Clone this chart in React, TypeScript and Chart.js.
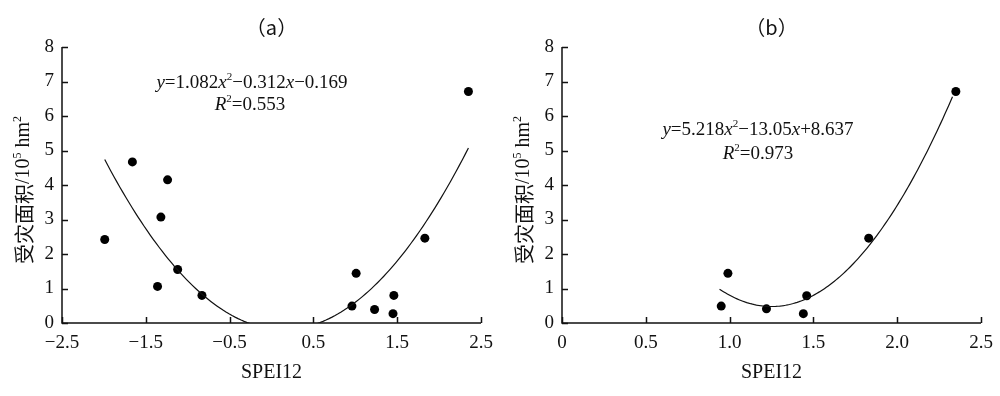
import React, { useEffect, useRef } from "react";
import { Chart, registerables } from "chart.js";

Chart.register(...registerables);

const SERIF = "'Liberation Serif', 'Times New Roman', serif";
const CJK = "'Noto Sans CJK SC', sans-serif";

// ---- data ----
const yTicks = [0, 1, 2, 3, 4, 5, 6, 7, 8];

const xTicksA = [-2.5, -1.5, -0.5, 0.5, 1.5, 2.5];
const xLabelsA = ["\u22122.5", "\u22121.5", "\u22120.5", "0.5", "1.5", "2.5"];
const speiA = [-1.99, -1.66, -1.36, -1.32, -1.24, -1.12, -0.83, 0.96, 1.01, 1.23, 1.45, 1.46, 1.83, 2.35];
const areaA = [2.42, 4.67, 1.06, 3.07, 4.15, 1.55, 0.8, 0.49, 1.44, 0.39, 0.27, 0.8, 2.46, 6.71];
const coefA = [1.082, -0.312, -0.169];
const rangeA = [-1.99, 2.35];

const xTicksB = [0, 0.5, 1.0, 1.5, 2.0, 2.5];
const xLabelsB = ["0", "0.5", "1.0", "1.5", "2.0", "2.5"];
const speiB = [0.95, 0.99, 1.22, 1.44, 1.46, 1.83, 2.35];
const areaB = [0.49, 1.44, 0.41, 0.27, 0.79, 2.46, 6.71];
const coefB = [5.218, -13.05, 8.637];
const rangeB = [0.94, 2.33];

type Seg = { t: string; it?: boolean; sup?: boolean; cjk?: boolean };

const eqA: Seg[] = [
  { t: "y", it: true }, { t: "=1.082" }, { t: "x", it: true }, { t: "2", sup: true },
  { t: "\u22120.312" }, { t: "x", it: true }, { t: "\u22120.169" },
];
const r2A: Seg[] = [{ t: "R", it: true }, { t: "2", sup: true }, { t: "=0.553" }];
const eqB: Seg[] = [
  { t: "y", it: true }, { t: "=5.218" }, { t: "x", it: true }, { t: "2", sup: true },
  { t: "\u221213.05" }, { t: "x", it: true }, { t: "+8.637" },
];
const r2B: Seg[] = [{ t: "R", it: true }, { t: "2", sup: true }, { t: "=0.973" }];
const yTitle: Seg[] = [
  { t: "受灾面积", cjk: true }, { t: "/10" }, { t: "5", sup: true }, { t: " hm" }, { t: "2", sup: true },
];

function fontFor(s: Seg, size: number) {
  const sz = s.sup ? Math.round(size * 0.6) : size;
  const fam = s.cjk ? CJK : SERIF;
  return `${s.it ? "italic " : ""}${sz}px ${fam}`;
}

function drawRich(ctx: CanvasRenderingContext2D, segs: Seg[], cx: number, cy: number, size: number) {
  let w = 0;
  for (const s of segs) {
    ctx.font = fontFor(s, size);
    w += ctx.measureText(s.t).width;
  }
  let x = cx - w / 2;
  ctx.textBaseline = "middle";
  ctx.textAlign = "left";
  for (const s of segs) {
    ctx.font = fontFor(s, size);
    const yy = s.sup ? cy - size * 0.32 : cy;
    ctx.fillText(s.t, x, yy);
    x += ctx.measureText(s.t).width;
  }
}

function curve(coef: number[], range: number[]) {
  const pts: { x: number; y: number }[] = [];
  const n = 120;
  for (let i = 0; i <= n; i++) {
    const x = range[0] + ((range[1] - range[0]) * i) / n;
    pts.push({ x, y: coef[0] * x * x + coef[1] * x + coef[2] });
  }
  return pts;
}

type Cfg = {
  xs: number[];
  ys: number[];
  coef: number[];
  range: number[];
  xTicks: number[];
  xLabels: string[];
  title: string;
  eq: Seg[];
  r2: Seg[];
  eqPos: number[];
  r2Pos: number[];
};

function Panel({ cfg }: { cfg: Cfg }) {
  const ref = useRef<HTMLCanvasElement>(null);
  useEffect(() => {
    if (!ref.current) return;
    const overlay = {
      id: "overlay",
      afterDraw(chart: any) {
        const ctx = chart.ctx as CanvasRenderingContext2D;
        const xs = chart.scales.x;
        const ys = chart.scales.y;
        const a = chart.chartArea;
        ctx.save();
        ctx.strokeStyle = "#111";
        ctx.lineWidth = 1.5;
        // axes
        ctx.beginPath();
        ctx.moveTo(a.left, a.top);
        ctx.lineTo(a.left, a.bottom);
        ctx.lineTo(a.right, a.bottom);
        ctx.stroke();
        // inward ticks
        ctx.beginPath();
        for (const v of cfg.xTicks) {
          const px = Math.round(xs.getPixelForValue(v)) + 0.5;
          ctx.moveTo(px, a.bottom);
          ctx.lineTo(px, a.bottom - 6);
        }
        for (const v of yTicks) {
          const py = Math.round(ys.getPixelForValue(v)) + 0.5;
          ctx.moveTo(a.left, py);
          ctx.lineTo(a.left + 6, py);
        }
        ctx.stroke();
        ctx.fillStyle = "#111";
        // tick labels
        ctx.font = `19px ${SERIF}`;
        ctx.textAlign = "center";
        ctx.textBaseline = "middle";
        cfg.xTicks.forEach((v, i) => {
          ctx.fillText(cfg.xLabels[i], xs.getPixelForValue(v), a.bottom + 20);
        });
        ctx.textAlign = "right";
        yTicks.forEach((v) => {
          ctx.fillText(String(v), a.left - 8, ys.getPixelForValue(v));
        });
        // title
        ctx.textAlign = "center";
        ctx.font = `20px ${CJK}`;
        ctx.fillText(cfg.title, (a.left + a.right) / 2, 27);
        // x title
        ctx.font = `20px ${SERIF}`;
        ctx.fillText("SPEI12", (a.left + a.right) / 2, 373);
        // equation
        drawRich(ctx, cfg.eq, cfg.eqPos[0], cfg.eqPos[1], 19);
        drawRich(ctx, cfg.r2, cfg.r2Pos[0], cfg.r2Pos[1], 19);
        // y title
        ctx.translate(24, 190);
        ctx.rotate(-Math.PI / 2);
        drawRich(ctx, yTitle, 0, 0, 20);
        ctx.restore();
      },
    };
    const chart = new Chart(ref.current, {
      type: "scatter",
      data: {
        datasets: [
          {
            type: "line",
            data: curve(cfg.coef, cfg.range),
            borderColor: "#111",
            borderWidth: 1.2,
            pointRadius: 0,
            fill: false,
            tension: 0,
          } as any,
          {
            data: cfg.xs.map((x, i) => ({ x, y: cfg.ys[i] })),
            backgroundColor: "#000",
            borderColor: "#000",
            pointRadius: 4.5,
            pointBorderWidth: 0,
          },
        ],
      },
      options: {
        animation: false,
        responsive: false,
        events: [],
        layout: { padding: { left: 0, right: 19, top: 47, bottom: 0 } },
        plugins: { legend: { display: false }, tooltip: { enabled: false }, title: { display: false } },
        scales: {
          x: {
            type: "linear",
            min: cfg.xTicks[0],
            max: cfg.xTicks[cfg.xTicks.length - 1],
            grid: { display: false },
            border: { display: false },
            ticks: { display: false },
            afterBuildTicks: (s: any) => {
              s.ticks = cfg.xTicks.map((v) => ({ value: v }));
            },
            afterFit: (s: any) => {
              s.height = 73;
            },
          },
          y: {
            type: "linear",
            min: 0,
            max: 8,
            grid: { display: false },
            border: { display: false },
            ticks: { display: false },
            afterBuildTicks: (s: any) => {
              s.ticks = yTicks.map((v) => ({ value: v }));
            },
            afterFit: (s: any) => {
              s.width = 62;
            },
          },
        },
      },
      plugins: [overlay],
    } as any);
    return () => chart.destroy();
  }, [cfg]);
  return <canvas ref={ref} width={500} height={396} style={{ display: "block", width: 500, height: 396 }} />;
}

const cfgA: Cfg = {
  xs: speiA, ys: areaA, coef: coefA, range: rangeA, xTicks: xTicksA, xLabels: xLabelsA,
  title: "（a）", eq: eqA, r2: r2A, eqPos: [252, 83], r2Pos: [250, 105],
};
const cfgB: Cfg = {
  xs: speiB, ys: areaB, coef: coefB, range: rangeB, xTicks: xTicksB, xLabels: xLabelsB,
  title: "（b）", eq: eqB, r2: r2B, eqPos: [258, 130], r2Pos: [258, 154],
};

export default function App() {
  return (
    <div style={{ position: "absolute", left: 0, top: 0, width: 1000, height: 396, display: "flex", background: "#fff" }}>
      <Panel cfg={cfgA} />
      <Panel cfg={cfgB} />
    </div>
  );
}
